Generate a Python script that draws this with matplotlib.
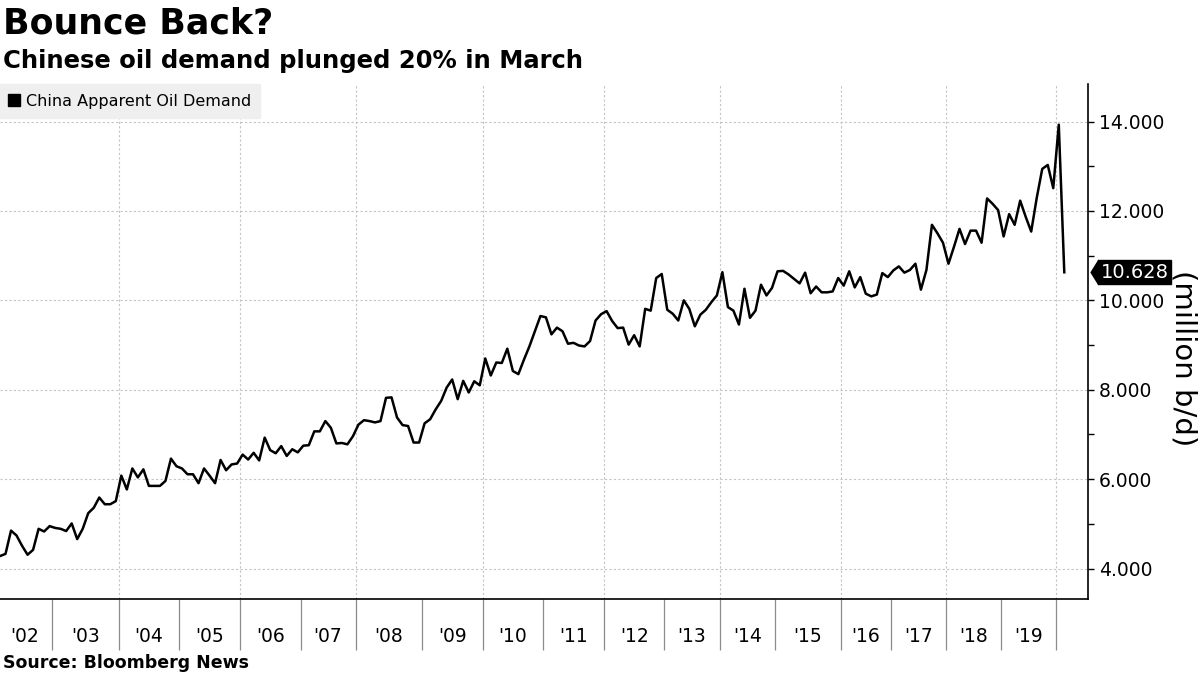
import matplotlib.pyplot as plt
import numpy as np
from matplotlib.lines import Line2D
from matplotlib.path import Path
from matplotlib import transforms
from matplotlib.ticker import FuncFormatter, FixedLocator, MultipleLocator

# Data: China apparent oil demand (million b/d), readings per year
d2002 = [4.28, 4.33, 4.85, 4.74, 4.51, 4.31, 4.42, 4.89, 4.83, 4.95]
d2003 = [4.91, 4.89, 4.84, 5.01, 4.66, 4.89, 5.24, 5.36, 5.59, 5.44, 5.44, 5.51]
d2004 = [6.08, 5.77, 6.24, 6.04, 6.22, 5.85, 5.85, 5.85, 5.96, 6.46, 6.29]
d2005 = [6.24, 6.11, 6.11, 5.91, 6.24, 6.08, 5.91, 6.43, 6.20, 6.33, 6.35]
d2006 = [6.55, 6.44, 6.59, 6.42, 6.93, 6.65, 6.58, 6.74, 6.52, 6.67, 6.60]
d2007 = [6.75, 6.76, 7.07, 7.07, 7.30, 7.15, 6.80, 6.81, 6.78, 6.96]
d2008 = [7.22, 7.32, 7.30, 7.27, 7.30, 7.82, 7.83, 7.38, 7.21, 7.19, 6.82, 6.82]
d2009 = [7.25, 7.34, 7.56, 7.75, 8.05, 8.23, 7.79, 8.20, 7.94, 8.19, 8.10]
d2010 = [8.70, 8.32, 8.61, 8.60, 8.92, 8.42, 8.35, 8.67, 8.97, 9.31, 9.65]
d2011 = [9.62, 9.24, 9.39, 9.31, 9.03, 9.05, 8.99, 8.97, 9.09, 9.55, 9.69]
d2012 = [9.76, 9.54, 9.38, 9.39, 9.01, 9.22, 8.97, 9.81, 9.77, 10.50, 10.59]
d2013 = [9.79, 9.70, 9.55, 10.00, 9.81, 9.42, 9.68, 9.79, 9.96, 10.11]
d2014 = [10.63, 9.85, 9.77, 9.46, 10.26, 9.61, 9.77, 10.35, 10.11, 10.28]
d2015 = [10.65, 10.66, 10.58, 10.48, 10.38, 10.62, 10.16, 10.31, 10.18, 10.18, 10.20, 10.50]
d2016 = [10.33, 10.65, 10.29, 10.52, 10.15, 10.09, 10.13, 10.61, 10.52]
d2017 = [10.67, 10.76, 10.62, 10.68, 10.82, 10.24, 10.68, 11.69, 11.50, 11.29]
d2018 = [10.82, 11.20, 11.60, 11.26, 11.56, 11.56, 11.29, 12.28, 12.16, 12.02]
d2019 = [11.43, 11.93, 11.69, 12.23, 11.87, 11.54, 12.29, 12.94, 13.03, 12.51]
d2020 = [13.93, 10.628]

years = [d2002, d2003, d2004, d2005, d2006, d2007, d2008, d2009, d2010, d2011,
         d2012, d2013, d2014, d2015, d2016, d2017, d2018, d2019, d2020]
year_labels = ["'02", "'03", "'04", "'05", "'06", "'07", "'08", "'09", "'10",
               "'11", "'12", "'13", "'14", "'15", "'16", "'17", "'18", "'19"]

demand = [v for y in years for v in y]
sizes = np.array([len(y) for y in years])
starts = np.concatenate([[0], np.cumsum(sizes)[:-1]]) - 0.5
mids = starts[:-1] + sizes[:-1] / 2

plt.rcParams['font.family'] = ['DejaVu Sans']

fig = plt.figure(figsize = (12, 6.75), dpi = 100)
ax = fig.add_axes([0, 1 - 599 / 675, 1088 / 1200, (599 - 84) / 675])

x = np.arange(len(demand))
ax.plot(x, demand, color = 'black', linewidth = 1.8, solid_joinstyle = 'round', zorder = 3)

ax.set_xlim(0, len(demand) + 3.3)
ax.set_ylim(3.32, 14.84)

# spines
for side in ['left', 'top']:
    ax.spines[side].set_visible(False)
for side in ['right', 'bottom']:
    ax.spines[side].set_color('black')
    ax.spines[side].set_linewidth(1.2)

# x axis: year separators + centered labels
ax.xaxis.set_major_locator(FixedLocator(starts[1:]))
ax.xaxis.set_major_formatter(FuncFormatter(lambda v, p: ''))
ax.set_xticks(mids, year_labels, minor = True)
ax.tick_params(axis = 'x', which = 'major', length = 37, width = 0.9, color = '#8c8c8c', direction = 'out')
ax.tick_params(axis = 'x', which = 'minor', length = 0, pad = 20, labelsize = 13.5)

# vertical gridlines every two years
for b in starts[2::2]:
    ax.axvline(b, color = '#c4c4c4', linestyle = (0, (2, 2)), linewidth = 0.8, zorder = 0)

# y axis on the right
ax.yaxis.tick_right()
ax.yaxis.set_major_locator(MultipleLocator(2))
ax.yaxis.set_minor_locator(MultipleLocator(1))
ax.yaxis.set_major_formatter(FuncFormatter(lambda v, p: f'{v:.3f}'))
ax.tick_params(axis = 'y', which = 'both', direction = 'out', length = 4, width = 1, pad = 4, labelsize = 13.5)
ax.yaxis.grid(True, which = 'major', color = '#c4c4c4', linestyle = (0, (2, 2)), linewidth = 0.8)
ax.set_axisbelow(True)

fig.text(1183 / 1200, 1 - 358 / 675, '(million b/d)', rotation = 270, ha = 'center', va = 'center', fontsize = 21)

# last value tag
last = demand[-1]
ytrans = ax.get_yaxis_transform()
ax.annotate(f'{last:.3f}',
            xy = (1, last),
            xycoords = ytrans,
            xytext = (9, 0),
            textcoords = 'offset points',
            ha = 'left',
            va = 'center',
            color = 'white',
            fontsize = 14,
            bbox = dict(boxstyle = 'square,pad=0.12', fc = 'black', ec = 'black'),
            annotation_clip = False)
tri = Path([(-0.31, 0), (0, 0.5), (0, -0.5), (-0.31, 0)])
tri_trans = ytrans + transforms.ScaledTranslation(0.1, 0, fig.dpi_scale_trans)
ax.plot([1], [last], marker = tri, markersize = 19, color = 'black', markeredgewidth = 0,
        transform = tri_trans, clip_on = False, zorder = 5)

# legend
handle = Line2D([], [], marker = 's', color = 'black', linestyle = 'none', markersize = 8)
ax.legend([handle], ['China Apparent Oil Demand'],
          loc = 'upper left',
          bbox_to_anchor = (0, 1),
          borderaxespad = 0,
          frameon = True,
          fancybox = False,
          facecolor = '#efefef',
          edgecolor = '#efefef',
          framealpha = 1,
          fontsize = 11.5,
          handlelength = 0.6,
          handletextpad = 0.4,
          borderpad = 0.6)

# titles and source
fig.text(3 / 1200, 1 - 33 / 675, 'Bounce Back?', fontsize = 25, fontweight = 'bold', va = 'baseline')
fig.text(3 / 1200, 1 - 68 / 675, 'Chinese oil demand plunged 20% in March', fontsize = 17.5,
         fontweight = 'bold', va = 'baseline')
fig.text(3 / 1200, 1 - 668 / 675, 'Source: Bloomberg News', fontsize = 12.5, fontweight = 'bold', va = 'baseline')

fig.savefig('out.png', dpi = 100)
